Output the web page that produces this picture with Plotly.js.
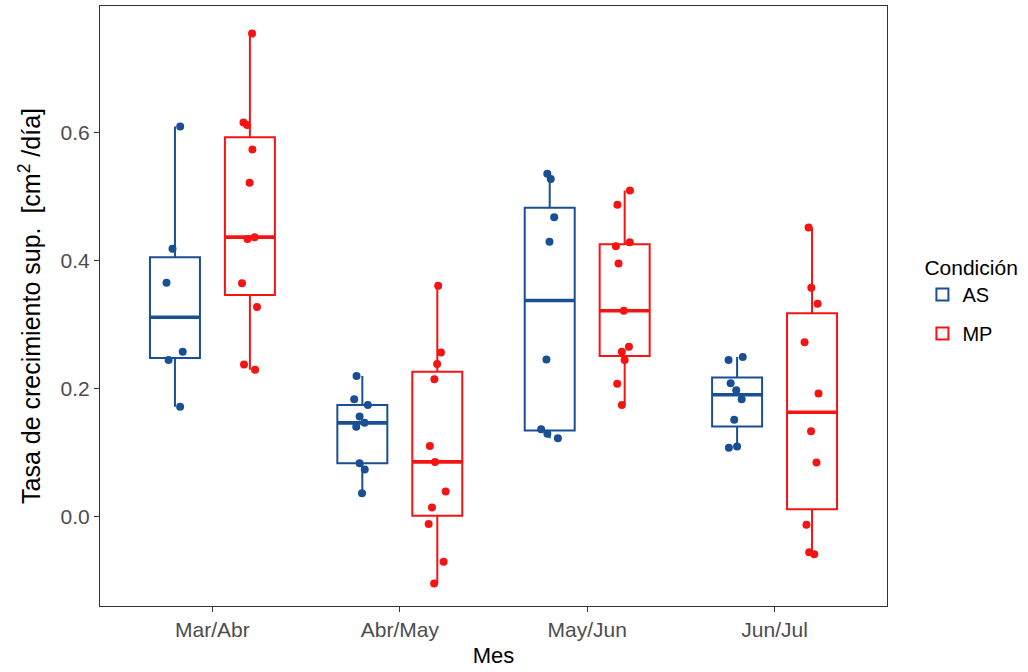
<!DOCTYPE html>
<html>
<head>
<meta charset="utf-8">
<script src="https://cdn.plot.ly/plotly-3.0.1.min.js"></script>
<style>html,body{margin:0;padding:0;background:#fff;}#chart{width:1028px;height:672px;}</style>
</head>
<body>
<div id="chart"></div>
<script>
const months = ['Mar/Abr', 'Abr/May', 'May/Jun', 'Jun/Jul'];
const groups = ['AS', 'MP'];

const asMarAbr = [0.610, 0.419, 0.366, 0.258, 0.245, 0.172];
const asAbrMay = [0.220, 0.184, 0.175, 0.157, 0.147, 0.141, 0.084, 0.074, 0.037];
const asMayJun = [0.536, 0.528, 0.468, 0.430, 0.246, 0.137, 0.130, 0.123];
const asJunJul = [0.250, 0.245, 0.209, 0.198, 0.184, 0.152, 0.110, 0.108];

const mpMarAbr = [0.755, 0.616, 0.612, 0.574, 0.522, 0.437, 0.434, 0.365, 0.328, 0.238, 0.230];
const mpAbrMay = [0.361, 0.257, 0.239, 0.215, 0.111, 0.086, 0.040, 0.015, -0.011, -0.070, -0.104];
const mpMayJun = [0.510, 0.4875, 0.429, 0.423, 0.396, 0.322, 0.266, 0.258, 0.245, 0.208, 0.175];
const mpJunJul = [0.452, 0.358, 0.333, 0.273, 0.193, 0.134, 0.085, -0.012, -0.055, -0.058];

const yTicks = [0.0, 0.2, 0.4, 0.6];

const seriesData = {
  AS: [asMarAbr, asAbrMay, asMayJun, asJunJul],
  MP: [mpMarAbr, mpAbrMay, mpMayJun, mpJunJul]
};
const colors = {AS: '#1a4f94', MP: '#f51414'};

// R type-7 quantile (ggplot default)
function q7(arr, p) {
  const s = [...arr].sort((a, b) => a - b);
  const h = (s.length - 1) * p;
  const lo = Math.floor(h);
  const hi = Math.min(lo + 1, s.length - 1);
  return s[lo] + (h - lo) * (s[hi] - s[lo]);
}
function stats(arr) {
  const q1 = q7(arr, 0.25), med = q7(arr, 0.5), q3 = q7(arr, 0.75);
  const iqr = q3 - q1;
  const inside = arr.filter(v => v >= q1 - 1.5 * iqr && v <= q3 + 1.5 * iqr);
  return {q1, med, q3, lo: Math.min(...inside), hi: Math.max(...inside)};
}

const traces = [];
groups.forEach(g => {
  const st = seriesData[g].map(stats);
  traces.push({
    type: 'box',
    name: g,
    legendgroup: g,
    x: months,
    q1: st.map(s => s.q1),
    median: st.map(s => s.med),
    q3: st.map(s => s.q3),
    lowerfence: st.map(s => s.lo),
    upperfence: st.map(s => s.hi),
    offsetgroup: g,
    line: {color: colors[g], width: 2},
    fillcolor: 'rgba(255,255,255,0)',
    whiskerwidth: 0,
    boxpoints: false,
    hoverinfo: 'skip',
    showlegend: true
  });
  // thicker median bar (ggplot fatten)
  traces.push({
    type: 'box',
    name: g,
    legendgroup: g,
    x: months,
    q1: st.map(s => s.med),
    median: st.map(s => s.med),
    q3: st.map(s => s.med),
    lowerfence: st.map(s => s.med),
    upperfence: st.map(s => s.med),
    offsetgroup: g,
    line: {color: colors[g], width: 3.6},
    fillcolor: 'rgba(255,255,255,0)',
    whiskerwidth: 0,
    boxpoints: false,
    hoverinfo: 'skip',
    showlegend: false
  });
});
groups.forEach(g => {
  const xs = [], ys = [];
  seriesData[g].forEach((vals, i) => vals.forEach(v => { xs.push(months[i]); ys.push(v); }));
  traces.push({
    type: 'box',
    name: g,
    legendgroup: g,
    x: xs,
    y: ys,
    offsetgroup: g,
    boxpoints: 'all',
    jitter: 0.4,
    pointpos: 0,
    line: {color: 'rgba(0,0,0,0)', width: 0},
    fillcolor: 'rgba(0,0,0,0)',
    whiskerwidth: 0,
    marker: {color: colors[g], size: 8},
    showlegend: false
  });
});

const layout = {
  width: 1028,
  height: 672,
  paper_bgcolor: '#ffffff',
  plot_bgcolor: '#ffffff',
  margin: {l: 100, r: 141, t: 6, b: 66},
  font: {family: 'Liberation Sans, Arial, sans-serif', color: '#000'},
  boxmode: 'group',
  boxgap: 0.2,
  boxgroupgap: 0.333,
  showlegend: true,
  legend: {
    x: 1.045, xanchor: 'left', y: 0.597, yanchor: 'top',
    title: {text: 'Condición', font: {size: 21, color: '#000'}},
    font: {size: 20, color: '#000'},
    traceorder: 'grouped',
    tracegroupgap: 10,
    bgcolor: 'rgba(0,0,0,0)'
  },
  xaxis: {
    type: 'category',
    categoryorder: 'array',
    categoryarray: months,
    range: [-0.6, 3.6],
    showgrid: false,
    zeroline: false,
    showline: true, mirror: true, linecolor: '#333', linewidth: 1,
    ticks: 'outside', ticklen: 5, tickcolor: '#333',
    tickfont: {size: 21, color: '#4d4d4d'},
    title: {text: 'Mes', font: {size: 22, color: '#000'}, standoff: 7}
  },
  yaxis: {
    range: [-0.139, 0.798],
    tickvals: yTicks,
    ticktext: yTicks.map(v => v.toFixed(1)),
    showgrid: false,
    zeroline: false,
    showline: true, mirror: true, linecolor: '#333', linewidth: 1,
    ticks: 'outside', ticklen: 5, tickcolor: '#333',
    tickfont: {size: 21, color: '#4d4d4d'},
    title: {text: 'Tasa de crecimiento sup.  [cm<sup>2</sup> /día]', font: {size: 25, color: '#000'}, standoff: 12}
  }
};

Plotly.newPlot('chart', traces, layout, {displayModeBar: false, staticPlot: true});
</script>
</body>
</html>
